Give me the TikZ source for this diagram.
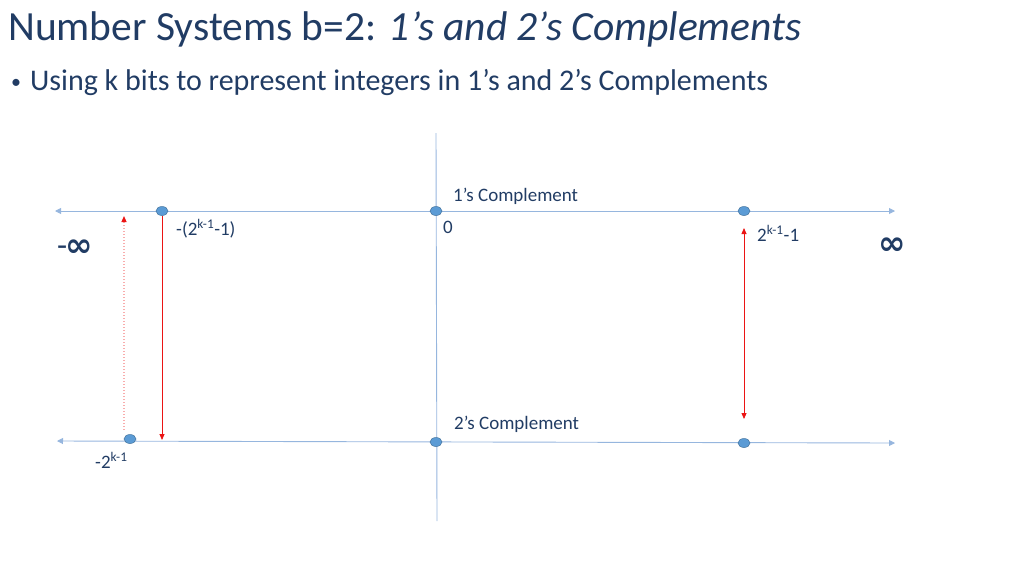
\documentclass[tikz,border=0pt]{standalone}
\usepackage{fontspec}
\setmainfont{Carlito}
\newfontfamily\symfont{DejaVu Sans}
\usetikzlibrary{arrows.meta,shapes.geometric}
\definecolor{titleblue}{RGB}{33,60,100}
\definecolor{axisblue}{RGB}{150,182,222}
\definecolor{dotblue}{RGB}{91,155,213}
\definecolor{dotedge}{RGB}{65,113,156}
\definecolor{arrowred}{RGB}{235,20,20}
\tikzset{
  axis/.style={draw=axisblue, line width=0.9pt, {Triangle[length=6pt,width=6pt]}-{Triangle[length=6pt,width=6pt]}},
  dot/.style={ellipse, draw=dotedge, fill=dotblue, line width=0.5pt, minimum width=12pt, minimum height=9pt, inner sep=0pt},
  lbl/.style={text=titleblue, font=\fontsize{19}{21}\selectfont, anchor=base west, inner sep=0pt},
  inf/.style={text=titleblue, font=\fontsize{33}{35}\selectfont, anchor=base west, inner sep=0pt},
  move/.style={draw=arrowred, line width=0.8pt},
  tipred/.style={-{Triangle[length=6pt,width=5pt,color=arrowred]}}
}
\begin{document}
\begin{tikzpicture}[x=1pt,y=-1pt]
  \useasboundingbox (0,0) rectangle (1024,576);
  % heading
  \node[anchor=base west, inner sep=0pt, text=titleblue, font=\fontsize{41.5}{44}\selectfont] (title) at (8,40)
    {Number Systems b=2: \textit{1’s and 2’s Complements}};
  \node[anchor=base west, inner sep=0pt, text=titleblue, font=\fontsize{20}{22}\selectfont] (bmark) at (11,88) {•};
  \node[anchor=base west, inner sep=0pt, text=titleblue, font=\fontsize{30}{32}\selectfont] (bullet) at (30,90)
    {Using k bits to represent integers in 1’s and 2’s Complements};
  % axes
  \draw
    (55,211) coordinate (tl)
    (895,211) coordinate (tr)
    (57,441) coordinate (bl)
    (895,443) coordinate (br)
    (436,133) coordinate (vt)
    (437,521) coordinate (vb);
  \draw[axis] (tl) to (tr);
  \draw[axis] (bl) to (br);
  \draw[draw=axisblue, line width=0.9pt] (vt) to (vb);
  % points
  \draw
    (162,211) node[dot] (t1){}
    (436,211) node[dot] (t2){}
    (744,211) node[dot] (t3){}
    (130,439) node[dot] (b1){}
    (436,442) node[dot] (b2){}
    (744,443) node[dot] (b3){};
  % labels
  \node[lbl] (onec) at (453,201) {1’s Complement};
  \node[lbl] (twoc) at (454,429) {2’s Complement};
  \node[lbl] (zero) at (443,233) {0};
  \node[lbl] (tmin) at (176,235) {-(2\textsuperscript{k-1}-1)};
  \node[lbl] (tmax) at (757,241) {2\textsuperscript{k-1}-1};
  \node[lbl] (bmin) at (95,468) {-2\textsuperscript{k-1}};
  \node[inf] (ninf) at (57,256) {-\hspace{-2pt}{\symfont\bfseries ∞}};
  \node[inf] (pinf) at (878,254) {{\symfont\bfseries ∞}};
  % arrows
  \coordinate (c1) at (162,440);
  \coordinate (c2) at (124,430);
  \coordinate (c3) at (124,216);
  \coordinate (c4) at (744,228);
  \coordinate (c5) at (744,419);
  \begin{scope}[move]
    \draw[tipred] (t1.south) to (c1);
    \draw[tipred, draw=arrowred!35, dash pattern=on 1.5pt off 1.5pt, line width=1.1pt] (c2) to (c3);
    \draw[{Triangle[length=6pt,width=5pt]}-{Triangle[length=6pt,width=5pt]}] (c4) to (c5);
  \end{scope}
\end{tikzpicture}
\end{document}
